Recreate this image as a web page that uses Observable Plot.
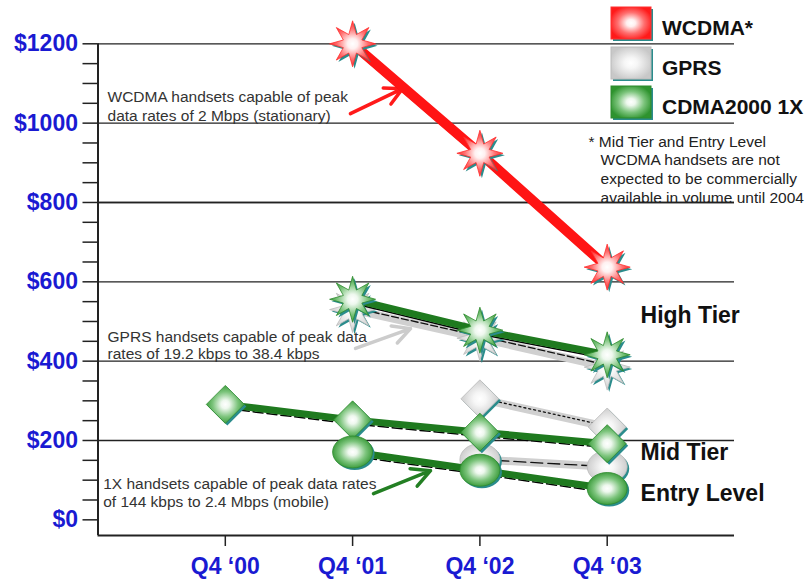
<!DOCTYPE html>
<html><head><meta charset="utf-8">
<script src="https://cdn.jsdelivr.net/npm/d3@7"></script>
<script src="https://cdn.jsdelivr.net/npm/@observablehq/plot@0.6"></script>
<style>
body{margin:0;background:#fff;font-family:"Liberation Sans",Arial,sans-serif;}
#chart{position:relative;width:808px;height:588px;}
</style></head><body><div id="chart"></div>
<script>
// ---- data ----
const quarters = ["Q4 \u201800", "Q4 \u201801", "Q4 \u201802", "Q4 \u201803"];
const yTicks = [0, 200, 400, 600, 800, 1000, 1200];
const wcdmaHigh = [null, 1200, 924, 637];
const gprsHigh  = [null, 530, 458, 385];
const cdmaHigh  = [null, 556, 478, 416];
const gprsMid   = [null, null, 305, 234];
const cdmaMid   = [291, 252, 221, 192];
const gprsEntry = [null, null, 152, 134];
const cdmaEntry = [null, 171, 125, 79];
const tierLabels = ["High Tier", "Mid Tier", "Entry Level"];
const tierValues = [515, 170, 66];
const legendLabels = ["WCDMA*", "GPRS", "CDMA2000 1X"];
const notes = [
  {x: 0.075, y: 1067, text: "WCDMA handsets capable of peak"},
  {x: 0.075, y: 1019, text: "data rates of 2 Mbps (stationary)"},
  {x: 0.075, y: 462, text: "GPRS handsets capable of peak data"},
  {x: 0.075, y: 417, text: "rates of 19.2 kbps to 38.4 kbps"},
  {x: 0.041, y: 89, text: "1X handsets capable of peak data rates"},
  {x: 0.041, y: 44, text: "of 144 kbps to 2.4 Mbps (mobile)"}
];
const footnote = [
  {x: 3.853, y: 952, text: "* Mid Tier and Entry Level"},
  {x: 3.948, y: 906, text: "WCDMA handsets are not"},
  {x: 3.948, y: 858, text: "expected to be commercially"},
  {x: 3.948, y: 811, text: "available in volume until 2004"}
];
const arrows = [
  {x1: 1.983, y1: 1024, x2: 2.392, y2: 1087, color: "#ff1a1a"},
  {x1: 2.023, y1: 432, x2: 2.455, y2: 482, color: "#cccccc"},
  {x1: 2.164, y1: 66, x2: 2.612, y2: 124, color: "#237f23"}
];

// ---- helpers ----
const rows = (vals) => vals.map((v, i) => ({i: i + 1, v})).filter(d => d.v != null);
const star = {draw(ctx) {
  const R = 23, r = 10;
  for (let k = 0; k < 16; k++) {
    const a = -Math.PI / 2 + k * Math.PI / 8, rad = k % 2 ? r : R;
    const px = rad * Math.cos(a), py = rad * Math.sin(a);
    k ? ctx.lineTo(px, py) : ctx.moveTo(px, py);
  }
  ctx.closePath();
}};
const diamond = {draw(ctx) {
  const s = 19;
  ctx.moveTo(0, -s); ctx.lineTo(s, 0); ctx.lineTo(0, s); ctx.lineTo(-s, 0); ctx.closePath();
}};
const ellipse = {draw(ctx) {
  const rx = 20, ry = 16, k = 0.5523;
  ctx.moveTo(rx, 0);
  ctx.bezierCurveTo(rx, ry * k, rx * k, ry, 0, ry);
  ctx.bezierCurveTo(-rx * k, ry, -rx, ry * k, -rx, 0);
  ctx.bezierCurveTo(-rx, -ry * k, -rx * k, -ry, 0, -ry);
  ctx.bezierCurveTo(rx * k, -ry, rx, -ry * k, rx, 0);
  ctx.closePath();
}};
function markers(data, symbol, grad, edge) {
  return [
    Plot.dot(data, {x: "i", y: "v", symbol, fill: "#2a8c8c", stroke: "none", dx: 2, dy: 2}),
    Plot.dot(data, {x: "i", y: "v", symbol, fill: `url(#${grad})`, stroke: edge, strokeWidth: 0.8})
  ];
}
const GREEN = "#1f7a1f", GRAY = "#d0d0d0", RED = "#ff1414";

const chart = Plot.plot({
  width: 808, height: 588,
  marginLeft: 97.5, marginRight: 74, marginTop: 43.3, marginBottom: 53,
  style: {fontFamily: "'Liberation Sans', Arial, sans-serif", background: "#fff", overflow: "visible"},
  x: {type: "linear", domain: [0, 5], axis: null},
  y: {type: "linear", domain: [-39.5, 1200], axis: null},
  marks: [
    // grid
    Plot.ruleY(yTicks.filter(d => d > 0), {stroke: "#222", strokeWidth: 1.3}),
    // y axis ticks (major + minor) and labels
    Plot.axisY(d3.range(0, 1201, 50), {tickSize: 15, tickFormat: () => "", stroke: "#222", strokeWidth: 1.5}),
    Plot.axisY(yTicks, {tickSize: 0, tickPadding: 20, tickFormat: d => "$" + d, fontSize: 23, fontWeight: "bold", color: "#1a1ad2"}),
    // x axis
    Plot.axisX([1, 2, 3, 4], {tickSize: 11, tickFormat: () => "", stroke: "#222", strokeWidth: 1.5}),
    Plot.axisX([1, 2, 3, 4], {tickSize: 0, tickPadding: 22, tickFormat: d => quarters[d - 1], fontSize: 23, fontWeight: "bold", color: "#1a1ad2"}),
    Plot.ruleX([0], {stroke: "#222", strokeWidth: 2}),
    Plot.ruleY([-39.5], {stroke: "#222", strokeWidth: 2}),

    // annotations
    Plot.text(notes, {x: "x", y: "y", text: "text", textAnchor: "start", fontSize: 15.5, fill: "#333"}),
    Plot.text(footnote, {x: "x", y: "y", text: "text", textAnchor: "start", fontSize: 15.5, fill: "#222"}),
    Plot.ruleY([800], {stroke: "#222", strokeWidth: 1.3}),
    Plot.arrow(arrows, {x1: "x1", y1: "y1", x2: "x2", y2: "y2", stroke: "color", strokeWidth: 3.5, headLength: 16, headAngle: 55}),

    // GPRS (gray)
    Plot.line(rows(gprsHigh), {x: "i", y: "v", stroke: GRAY, strokeWidth: 8}),
    Plot.line(rows(gprsHigh), {x: "i", y: "v", stroke: "#111", strokeWidth: 1.3, strokeDasharray: "7,3", dy: -2}),
    Plot.line(rows(gprsMid), {x: "i", y: "v", stroke: GRAY, strokeWidth: 8}),
    Plot.line(rows(gprsMid), {x: "i", y: "v", stroke: "#111", strokeWidth: 1.3, strokeDasharray: "2,3", dy: -1}),
    Plot.line(rows(gprsEntry), {x: "i", y: "v", stroke: GRAY, strokeWidth: 8}),
    Plot.line(rows(gprsEntry), {x: "i", y: "v", stroke: "#111", strokeWidth: 1.3, strokeDasharray: "12,5", dy: 0}),
    ...markers(rows(gprsHigh), star, "gGray", "#bbb"),
    ...markers(rows(gprsMid), diamond, "gGray", "#bbb"),
    ...markers(rows(gprsEntry), ellipse, "gGray", "#bbb"),

    // CDMA2000 1X (green)
    Plot.line(rows(cdmaHigh), {x: "i", y: "v", stroke: "#000", strokeWidth: 1.5, dy: 4}),
    Plot.line(rows(cdmaHigh), {x: "i", y: "v", stroke: GREEN, strokeWidth: 7}),
    Plot.line(rows(cdmaMid), {x: "i", y: "v", stroke: "#000", strokeWidth: 1.5, dy: 4, strokeDasharray: "10,4"}),
    Plot.line(rows(cdmaMid), {x: "i", y: "v", stroke: GREEN, strokeWidth: 7}),
    Plot.line(rows(cdmaEntry), {x: "i", y: "v", stroke: "#000", strokeWidth: 1.5, dy: 4, strokeDasharray: "10,4"}),
    Plot.line(rows(cdmaEntry), {x: "i", y: "v", stroke: GREEN, strokeWidth: 7}),
    ...markers(rows(cdmaHigh), star, "gGreen", "#2d8a2d"),
    ...markers(rows(cdmaMid), diamond, "gGreen", "#2d8a2d"),
    ...markers(rows(cdmaEntry), ellipse, "gGreen", "#2d8a2d"),

    // WCDMA (red)
    Plot.line(rows(wcdmaHigh), {x: "i", y: "v", stroke: "#000", strokeWidth: 1.6, dx: -3, dy: 2}),
    Plot.line(rows(wcdmaHigh), {x: "i", y: "v", stroke: RED, strokeWidth: 10}),
    ...markers(rows(wcdmaHigh), star, "gRed", "#ff3030"),

    // tier labels
    Plot.text(tierLabels, {x: () => 4.262, y: (d, i) => tierValues[i], text: d => d, textAnchor: "start", fontSize: 23, fontWeight: "bold", fill: "#111"})
  ]
});

// gradients
const svg = d3.select(chart);
const defs = svg.insert("defs", ":first-child");
function radial(id, stops) {
  const g = defs.append("radialGradient").attr("id", id).attr("cx", "50%").attr("cy", "50%").attr("r", "55%");
  stops.forEach(([o, c]) => g.append("stop").attr("offset", o).attr("stop-color", c));
}
radial("gRed", [["0%", "#ffffff"], ["20%", "#fff0f0"], ["60%", "#ff7070"], ["100%", "#ff1a1a"]]);
radial("gGreen", [["0%", "#ffffff"], ["20%", "#eef8ee"], ["60%", "#7cc47c"], ["100%", "#2e932e"]]);
radial("gGray", [["0%", "#ffffff"], ["30%", "#f6f6f6"], ["100%", "#c8c8c8"]]);

// legend
const legendGrads = ["gRed", "gGray", "gGreen"];
const legendEdges = ["#ff3030", "#bcbcbc", "#2d8a2d"];
const lg = svg.append("g").attr("font-family", "'Liberation Sans', Arial, sans-serif").attr("text-anchor", "start");
legendLabels.forEach((label, i) => {
  const y0 = [7, 47, 86][i];
  lg.append("rect").attr("x", 613).attr("y", y0 + 2).attr("width", 40).attr("height", 32).attr("fill", "#2a8c8c");
  lg.append("rect").attr("x", 611).attr("y", y0).attr("width", 40).attr("height", 32)
    .attr("fill", `url(#${legendGrads[i]})`).attr("stroke", legendEdges[i]).attr("stroke-width", 1);
  lg.append("text").attr("x", 662).attr("y", y0 + 20).attr("dominant-baseline", "central")
    .attr("text-anchor", "start")
    .attr("font-size", 21).attr("font-weight", "bold").attr("fill", "#111").text(label);
});

document.getElementById("chart").appendChild(chart);
</script>
</body></html>
